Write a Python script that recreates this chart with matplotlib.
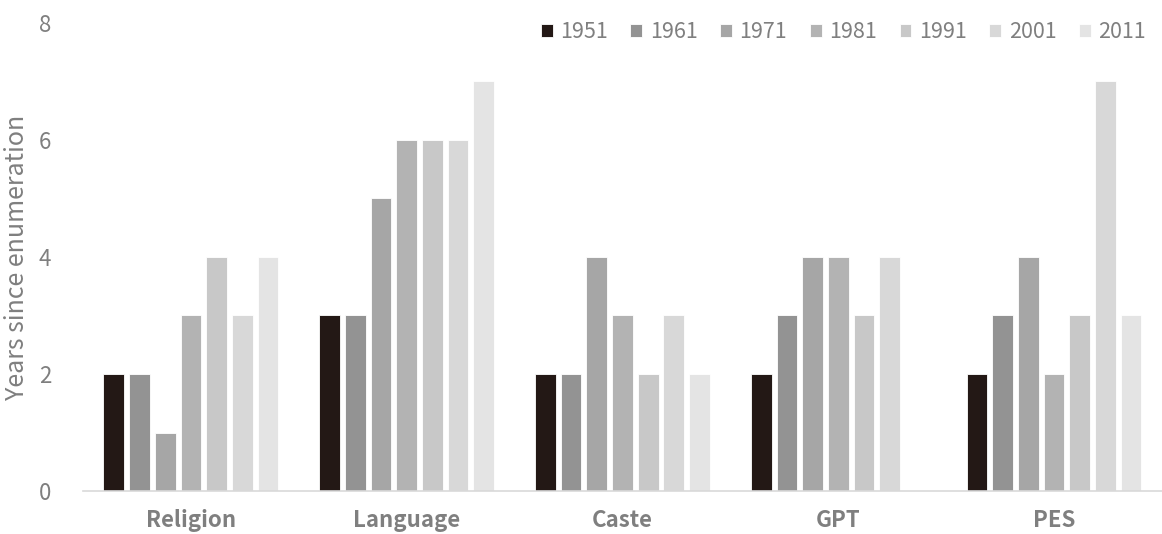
import numpy as np
import matplotlib.pyplot as plt

plt.rcParams['font.family'] = ['Noto Sans CJK SC', 'DejaVu Sans']

categories = ['Religion', 'Language', 'Caste', 'GPT', 'PES']
years = ['1951', '1961', '1971', '1981', '1991', '2001', '2011']
values = {
    '1951': [2, 3, 2, 2, 2],
    '1961': [2, 3, 2, 3, 3],
    '1971': [1, 5, 4, 4, 4],
    '1981': [3, 6, 3, 4, 2],
    '1991': [4, 6, 2, 3, 3],
    '2001': [3, 6, 3, 4, 7],
    '2011': [4, 7, 2, None, 3],
}
colors = ['#231815', '#939393', '#a6a6a6', '#b3b3b3', '#c8c8c8', '#d8d8d8', '#e4e4e4']

text_grey = '#7f7f7f'

fig = plt.figure(figsize=(11.62, 5.34), dpi=100)
ax = fig.add_axes([0.0714, 0.0805, 0.9286, 0.8765])

x = np.arange(len(categories))
pitch = 0.119
width = 0.096
for k, yr in enumerate(years):
    offs = (k - 3) * pitch
    vals = [np.nan if v is None else v for v in values[yr]]
    ax.bar(x + offs, vals, width, color=colors[k], label=yr,
           edgecolor='white', linewidth=0.6)

ax.set_xlim(-0.5, len(categories) - 0.5)
ax.set_ylim(0, 8)
ax.set_yticks([0, 2, 4, 6, 8])
ax.set_xticks(x)
ax.set_xticklabels(categories, fontsize=16, fontweight='bold', color=text_grey)
ax.tick_params(axis='y', labelsize=16, labelcolor=text_grey, length=0, pad=23)
ax.tick_params(axis='x', length=0, pad=13)
for s in ['top', 'right', 'left']:
    ax.spines[s].set_visible(False)
ax.spines['bottom'].set_color('#d9d9d9')
ax.spines['bottom'].set_linewidth(1.2)

ax.set_ylabel('Years since enumeration', fontsize=18, color=text_grey, labelpad=6)

leg = ax.legend(loc='upper right', bbox_to_anchor=(1.003, 1.045), ncol=7, frameon=False,
                fontsize=15.5, handlelength=0.55, handleheight=0.55, handletextpad=0.35,
                columnspacing=1.05, labelcolor=text_grey)

fig.savefig('out.png', dpi=100)
